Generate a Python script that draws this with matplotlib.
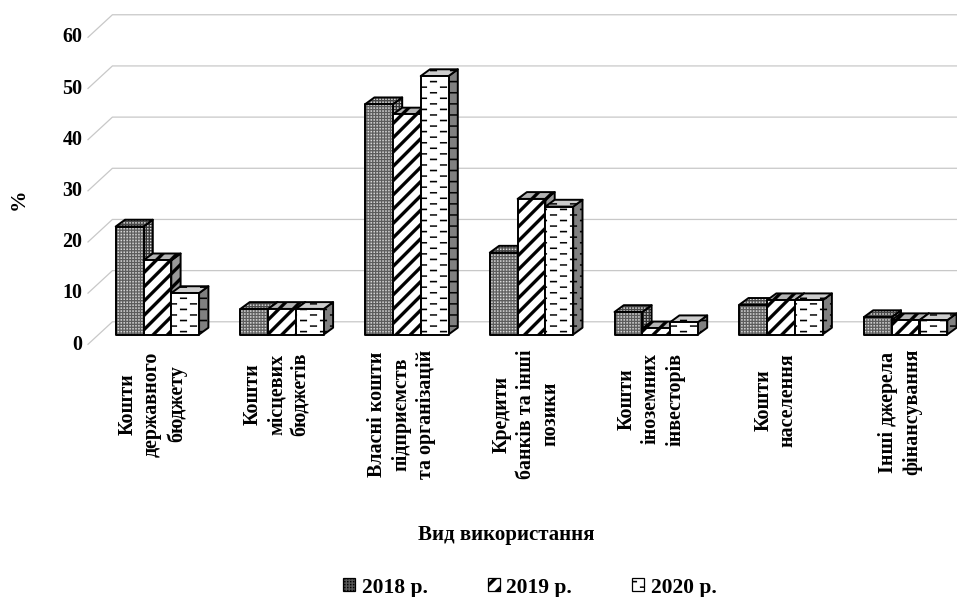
import matplotlib
matplotlib.use('Agg')
import matplotlib.pyplot as plt
from matplotlib import hatch as mhatch
from matplotlib.patches import Polygon, Patch
from matplotlib.path import Path

categories = ['Кошти\nдержавного\nбюджету', 'Кошти\nмісцевих\nбюджетів',
              'Власні кошти\nпідприємств\nта організацій', 'Кредити\nбанків та інші\nпозики',
              'Кошти\nіноземних\nінвесторів', 'Кошти\nнаселення', 'Інші джерела\nфінансування']
years = ['2018 р.', '2019 р.', '2020 р.']
values_2018 = [21.1, 5.0, 45.0, 16.0, 4.4, 5.8, 3.4]
values_2019 = [14.5, 5.0, 43.0, 26.5, 1.2, 6.7, 2.8]
values_2020 = [8.1, 5.0, 50.5, 25.0, 2.4, 6.7, 2.8]
yticks = [0, 10, 20, 30, 40, 50, 60]

W, H = 957, 597
PX_X = 124.7          # pixels per category
PX_Y = 5.117          # pixels per percent
Y0 = 342              # pixel row of value 0
LEFT = 88
BAR_W = 27.8 / PX_X
DX, DY = 9.3 / PX_X, 6.8 / PX_Y     # bar depth
BASE = (Y0 - 334.5) / PX_Y          # bars stand a bit behind the axis
label_rows = [404, 394, 414, 414, 399, 400, 412]


# excel style fills, drawn as filled shapes in a 1x1 tile
def rect(x, y, w, h):
    return [(x, y), (x + w, y), (x + w, y + h), (x, y + h)]


def tile_shapes(pattern):
    shapes = []
    if '.' in pattern:
        n = 34
        for i in range(n):
            for j in range(n):
                shapes.append(rect(i / n, j / n, 0.014, 0.014))
    if '/' in pattern:
        n = 7
        for k in range(-n, n):
            shapes.append([(k / n, 0), (k / n + 0.045, 0), (k / n + 1.045, 1), (k / n + 1, 1)])
    if '-' in pattern:
        for r in range(18):
            off = 0.1 if r % 2 else 0.0
            for c in range(5):
                shapes.append(rect(c / 5 + off, r / 18 + 0.01, 0.07, 0.014))
    return shapes


class TileHatch(mhatch.HatchPatternBase):
    def __init__(self, pattern, density):
        self.shapes = tile_shapes(pattern)
        self.num_vertices = 5 * len(self.shapes)

    def set_vertices_and_codes(self, vertices, codes):
        for i, s in enumerate(self.shapes):
            vertices[5 * i:5 * i + 5] = s + [s[0]]
            codes[5 * i:5 * i + 5] = [Path.MOVETO, Path.LINETO, Path.LINETO, Path.LINETO, Path.CLOSEPOLY]


mhatch._hatch_types = [TileHatch]
plt.rcParams['hatch.linewidth'] = 0.1
plt.rcParams['font.family'] = ['Liberation Serif', 'DejaVu Serif']
plt.rcParams['font.weight'] = 'bold'
plt.rcParams['font.size'] = 14.4

#           hatch, hatch colour, front, side, top
styles = [('.', '#dcdcdc', '#5c5c5c', '#333333', '#484848'),
          ('/', '#000000', '#ffffff', '#999999', '#b4b4b4'),
          ('-', '#000000', '#ffffff', '#808080', '#cccccc')]

fig = plt.figure(figsize=(W / 100, H / 100), dpi=100)
ax = fig.add_axes([LEFT / W, (H - Y0) / H, (W - LEFT) / W, 60 * PX_Y / H])
ax.set_xlim((LEFT - 157.4) / PX_X, (W - 157.4) / PX_X)
ax.set_ylim(0, 60)
for s in ax.spines.values():
    s.set_visible(False)
ax.set_xticks([])
ax.set_yticks(yticks)
ax.tick_params(axis='y', length=0, pad=4, labelsize=14.4)
ax.patch.set_visible(False)

# gridlines along the back wall and down the side wall
xl = ax.get_xlim()[0]
wall_dx = 24.4 / PX_X
for v in yticks:
    ax.plot([xl, xl + wall_dx, ax.get_xlim()[1]], [v - 0.45, v + 3.95, v + 3.95],
            color='#c8c8c8', lw=0.9, clip_on=False, zorder=1)


def face(xy, color, hatch_style, hatch_color, z):
    ax.add_patch(Polygon(xy, closed=True, facecolor=color, edgecolor=hatch_color, hatch=hatch_style,
                         lw=0, clip_on=False, zorder=z))
    ax.add_patch(Polygon(xy, closed=True, fill=False, edgecolor='black', lw=1.4,
                         joinstyle='round', clip_on=False, zorder=z))


z = 2
for i in range(len(categories)):
    for j, vals in enumerate([values_2018, values_2019, values_2020]):
        hs, hc, front, side, top = styles[j]
        x0 = i + (j - 1.5) * BAR_W
        x1 = x0 + BAR_W
        y1 = BASE + vals[i]
        face([(x1, BASE), (x1 + DX, BASE + DY), (x1 + DX, y1 + DY), (x1, y1)], side, hs, hc, z)
        face([(x0, y1), (x1, y1), (x1 + DX, y1 + DY), (x0 + DX, y1 + DY)], top, hs, hc, z)
        face([(x0, BASE), (x1, BASE), (x1, y1), (x0, y1)], front, hs, hc, z)
        z += 1

for i, cat in enumerate(categories):
    ax.text(i - 5.4 / PX_X, (Y0 - label_rows[i]) / PX_Y, cat, rotation=90, ha='center', va='center',
            multialignment='center', linespacing=1.3, clip_on=False)

fig.text(19 / W, 1 - 199 / H, '%', rotation=90, ha='center', va='center', fontsize=15.5)
fig.text(506 / W, 1 - 535 / H, 'Вид використання', ha='center', va='center', fontsize=15)

handles = [Patch(facecolor=st[2], edgecolor='black', hatch=st[0], lw=0.9) for st in styles]
fig.legend(handles, years, loc='center', bbox_to_anchor=(530 / W, 1 - 587.5 / H), ncol=3, frameon=False,
           fontsize=15.5, handlelength=0.55, handleheight=0.55, handletextpad=0.3, columnspacing=2.8,
           borderpad=0, borderaxespad=0)

fig.savefig('out.png', dpi=100)
